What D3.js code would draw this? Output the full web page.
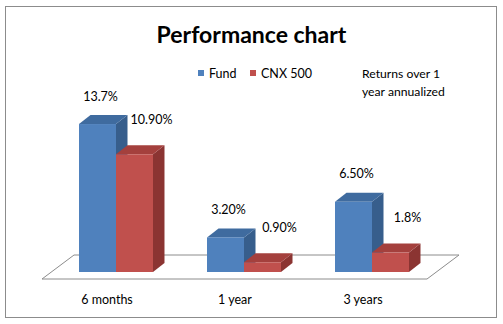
<!DOCTYPE html>
<html>
<head>
<meta charset="utf-8">
<script src="https://cdn.jsdelivr.net/npm/d3@7/dist/d3.min.js"></script>
<style>
  html, body { margin: 0; padding: 0; background: #fff; }
  svg { display: block; }
  text { font-family: Lato, "Open Sans", sans-serif; fill: #000; }
</style>
</head>
<body>
<script>
// Performance chart: fund returns vs the CNX 500 index
const categories = ["6 months", "1 year", "3 years"];
const seriesNames = ["Fund", "CNX 500"];
const fundValues = [13.7, 3.2, 6.5];
const cnxValues = [10.9, 0.9, 1.8];
const fundLabels = ["13.7%", "3.20%", "6.50%"];
const cnxLabels = ["10.90%", "0.90%", "1.8%"];

const W = 503, H = 324;
const svg = d3.select("body").append("svg").attr("width", W).attr("height", H);

// chart frame
svg.append("rect").attr("x", 5.5).attr("y", 6.5).attr("width", 491).attr("height", 311)
  .attr("fill", "#fff").attr("stroke", "#8c8c8c").attr("stroke-width", 1);

// title
svg.append("text").attr("x", 251.5).attr("y", 42.5).attr("text-anchor", "middle")
  .style("font-size", "23px").style("font-weight", "bold").text("Performance chart");

// scales
const x0 = d3.scaleBand().domain(categories).range([52, 436]).paddingInner(0.422).paddingOuter(0.211);
const x1 = d3.scaleBand().domain(seriesNames).range([0, x0.bandwidth()]);
const y = d3.scaleLinear().domain([0, 14]).range([272, 120.8]);

const depthX = 11.5, depthY = -9;   // oblique projection of bar depth
const floorFront = 279, floorBack = 255, floorShift = 32;

// floor
const fl = x0.range()[0] - 10, fr = x0.range()[1] - 9;
svg.append("path")
  .attr("d", `M${fl},${floorFront} L${fr},${floorFront} L${fr + floorShift},${floorBack} L${fl + floorShift},${floorBack} Z`)
  .attr("fill", "#fff").attr("stroke", "#8c8c8c").attr("stroke-width", 1);

const palette = {
  "Fund": { front: "#4f81bd", top: "#3f6b9f", side: "#375e8c" },
  "CNX 500": { front: "#c0504d", top: "#a4403d", side: "#8b3432" }
};

const rows = categories.map((c, i) => ({
  cat: c,
  bars: [
    { s: "Fund", v: fundValues[i], label: fundLabels[i] },
    { s: "CNX 500", v: cnxValues[i], label: cnxLabels[i] }
  ]
}));

const bars = [];
rows.forEach(r => r.bars.forEach(b => bars.push(Object.assign({ cat: r.cat }, b))));

const g = svg.append("g");
const barG = g.selectAll("g.bar").data(bars).join("g").attr("class", "bar");

barG.each(function (d) {
  const sel = d3.select(this);
  const xl = x0(d.cat) + x1(d.s);
  const xr = xl + x1.bandwidth();
  const yt = y(d.v), yb = y(0);
  const col = palette[d.s];
  // side face
  sel.append("path")
    .attr("d", `M${xr},${yt} L${xr + depthX},${yt + depthY} L${xr + depthX},${yb + depthY} L${xr},${yb} Z`)
    .attr("fill", col.side);
  // top face
  sel.append("path")
    .attr("d", `M${xl},${yt} L${xl + depthX},${yt + depthY} L${xr + depthX},${yt + depthY} L${xr},${yt} Z`)
    .attr("fill", col.top);
  // front face
  sel.append("rect").attr("x", xl).attr("y", yt).attr("width", xr - xl).attr("height", yb - yt)
    .attr("fill", col.front);
});

// value labels
svg.selectAll("text.val").data(bars).join("text").attr("class", "val")
  .attr("x", d => x0(d.cat) + x1(d.s) + x1.bandwidth() / 2 + (d.s === "Fund" ? 3 : 17))
  .attr("y", d => y(d.v) - (d.s === "Fund" ? 28 : 35) + 4.5)
  .attr("text-anchor", "middle")
  .style("font-size", "12.5px")
  .text(d => d.label);

// category labels
svg.selectAll("text.cat").data(categories).join("text").attr("class", "cat")
  .attr("x", d => x0(d) + x0.bandwidth() / 2 - 9)
  .attr("y", 303.5)
  .attr("text-anchor", "middle")
  .style("font-size", "12.5px")
  .text(d => d);

// legend
const legX = [198, 250];
const leg = svg.selectAll("g.leg").data(seriesNames).join("g").attr("class", "leg")
  .attr("transform", (d, i) => `translate(${legX[i]},70)`);
leg.append("rect").attr("width", 6).attr("height", 6).attr("fill", d => palette[d].front);
leg.append("text").attr("x", 11).attr("y", 7.5).style("font-size", "12.5px").text(d => d);

// note
const note = svg.append("text").style("font-size", "12.2px");
note.append("tspan").attr("x", 362).attr("y", 77.5).text("Returns over 1");
note.append("tspan").attr("x", 362).attr("y", 95.5).text("year annualized");
</script>
</body>
</html>
